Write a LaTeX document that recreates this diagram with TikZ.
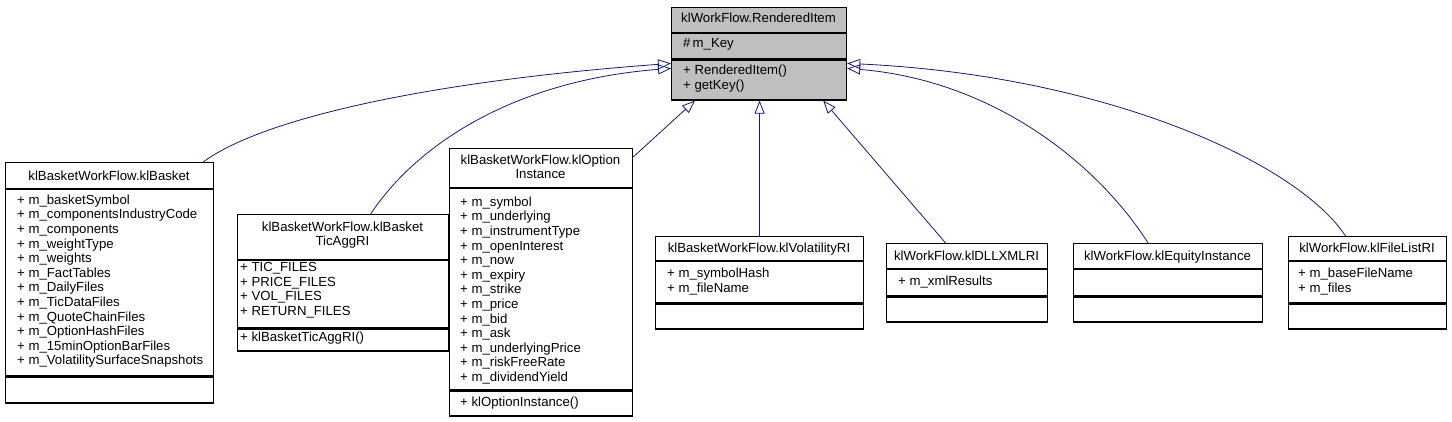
\documentclass[tikz,border=0pt]{standalone}
\usepackage{fontspec}
\setmainfont{Liberation Sans}
\usetikzlibrary{arrows.meta}
\definecolor{edgeblue}{RGB}{25,25,112}
\definecolor{boxgray}{RGB}{191,191,191}
\begin{document}
\begin{tikzpicture}[x=1pt,y=-1pt,
  sect/.style={draw=black, line width=1.2pt, fill=white, inner sep=0pt, anchor=north west},
  graysect/.style={sect, fill=boxgray},
  ttl/.style={inner sep=0pt, font=\fontsize{13.2}{14.6}\selectfont, align=center, anchor=north, yshift=10.22pt},
  lst/.style={inner sep=0pt, font=\fontsize{13.2}{14.6}\selectfont, align=left, anchor=north west, yshift=10.22pt},
  inh/.style={draw=edgeblue, line width=0.8pt, -{Triangle[open, length=13pt, width=10pt]}}
]
\useasboundingbox (0,0) rectangle (1452,421);

% ---- base class
\node[graysect, minimum width=175pt, minimum height=25pt] (topT) at (671,7) {};
\node[graysect, minimum width=175pt, minimum height=25pt] (topA) at (topT.south west) {};
\node[graysect, minimum width=175pt, minimum height=40pt] (topM) at (topA.south west) {};
\node[ttl] (topTt) at (758.5,22.5) {\strut klWorkFlow.RenderedItem};
\node[lst] (topAt) at (683,47.5) {\strut\#\,m\_Key};
\node[lst] (topMt) at (683,74.5) {\strut + RenderedItem()\\+ getKey()};

% ---- klBasket
\node[sect, minimum width=208pt, minimum height=26pt] (bT) at (5,162) {};
\node[sect, minimum width=208pt, minimum height=186pt] (bA) at (bT.south west) {};
\node[sect, minimum width=208pt, minimum height=26pt] (bM) at (bA.south west) {};
\node[ttl] (bTt) at (109,180) {\strut klBasketWorkFlow.klBasket};
\node[lst] (bAt) at (17,204) {\strut + m\_basketSymbol\\+ m\_componentsIndustryCode\\+ m\_components\\+ m\_weightType\\+ m\_weights\\+ m\_FactTables\\+ m\_DailyFiles\\+ m\_TicDataFiles\\+ m\_QuoteChainFiles\\+ m\_OptionHashFiles\\+ m\_15minOptionBarFiles\\+ m\_VolatilitySurfaceSnapshots};

% ---- klBasketTicAggRI
\node[sect, minimum width=211pt, minimum height=45pt] (cT) at (237,214) {};
\node[sect, minimum width=211pt, minimum height=67pt] (cA) at (cT.south west) {};
\node[sect, minimum width=211pt, minimum height=22pt] (cM) at (cA.south west) {};
\node[ttl] (cTt) at (342.5,231) {\strut klBasketWorkFlow.klBasket\\TicAggRI};
\node[lst] (cAt) at (240,271.5) {\strut + TIC\_FILES\\+ PRICE\_FILES\\+ VOL\_FILES\\+ RETURN\_FILES};
\node[lst] (cMt) at (240,341) {\strut + klBasketTicAggRI()};

% ---- klOptionInstance
\node[sect, minimum width=183pt, minimum height=39pt] (oT) at (449,148) {};
\node[sect, minimum width=183pt, minimum height=201pt] (oA) at (oT.south west) {};
\node[sect, minimum width=183pt, minimum height=25pt] (oM) at (oA.south west) {};
\node[ttl] (oTt) at (540.5,164) {\strut klBasketWorkFlow.klOption\\Instance};
\node[lst] (oAt) at (460,206) {\strut + m\_symbol\\+ m\_underlying\\+ m\_instrumentType\\+ m\_openInterest\\+ m\_now\\+ m\_expiry\\+ m\_strike\\+ m\_price\\+ m\_bid\\+ m\_ask\\+ m\_underlyingPrice\\+ m\_riskFreeRate\\+ m\_dividendYield};
\node[lst] (oMt) at (460,406.5) {\strut + klOptionInstance()};

% ---- klVolatilityRI
\node[sect, minimum width=208pt, minimum height=24pt] (vT) at (655,236) {};
\node[sect, minimum width=208pt, minimum height=41pt] (vA) at (vT.south west) {};
\node[sect, minimum width=208pt, minimum height=25pt] (vM) at (vA.south west) {};
\node[ttl] (vTt) at (759,252.5) {\strut klBasketWorkFlow.klVolatilityRI};
\node[lst] (vAt) at (667,277.5) {\strut + m\_symbolHash\\+ m\_fileName};

% ---- klDLLXMLRI
\node[sect, minimum width=161pt, minimum height=25pt] (dT) at (886,243) {};
\node[sect, minimum width=161pt, minimum height=26pt] (dA) at (dT.south west) {};
\node[sect, minimum width=161pt, minimum height=25pt] (dM) at (dA.south west) {};
\node[ttl] (dTt) at (966.5,260.5) {\strut klWorkFlow.klDLLXMLRI};
\node[lst] (dAt) at (898,285.5) {\strut + m\_xmlResults};

% ---- klEquityInstance
\node[sect, minimum width=189pt, minimum height=25pt] (eT) at (1073,243) {};
\node[sect, minimum width=189pt, minimum height=26pt] (eA) at (eT.south west) {};
\node[sect, minimum width=189pt, minimum height=25pt] (eM) at (eA.south west) {};
\node[ttl] (eTt) at (1167.5,260.5) {\strut klWorkFlow.klEquityInstance};

% ---- klFileListRI
\node[sect, minimum width=158pt, minimum height=24pt] (fT) at (1288,236) {};
\node[sect, minimum width=158pt, minimum height=41pt] (fA) at (fT.south west) {};
\node[sect, minimum width=158pt, minimum height=25pt] (fM) at (fA.south west) {};
\node[ttl] (fTt) at (1367,252.5) {\strut klWorkFlow.klFileListRI};
\node[lst] (fAt) at (1298,277.5) {\strut + m\_baseFileName\\+ m\_files};

% ---- inheritance connectors
\draw[inh] ([xshift=-11pt]bT.north east) .. controls (260,120) and (420,82) .. ([yshift=-4pt]topA.south west);
\draw[inh] ([xshift=27.5pt]cT.north) .. controls (420,140) and (520,80) .. ([yshift=-9pt]topA.south west);
\draw[inh] ([yshift=-9pt]oT.north east) -- ([xshift=24pt]topM.south west);
\draw[inh] (vT.north) -- (vT.north |- topM.south);
\draw[inh] ([xshift=-21.5pt]dT.north) -- ([xshift=-24pt]topM.south east);
\draw[inh] ([xshift=-20pt]eT.north) .. controls (1095,160) and (990,80) .. ([yshift=-9pt]topA.south east);
\draw[inh] ([xshift=-22pt]fT.north) .. controls (1295,160) and (1100,75) .. ([yshift=-4pt]topA.south east);
\end{tikzpicture}
\end{document}
